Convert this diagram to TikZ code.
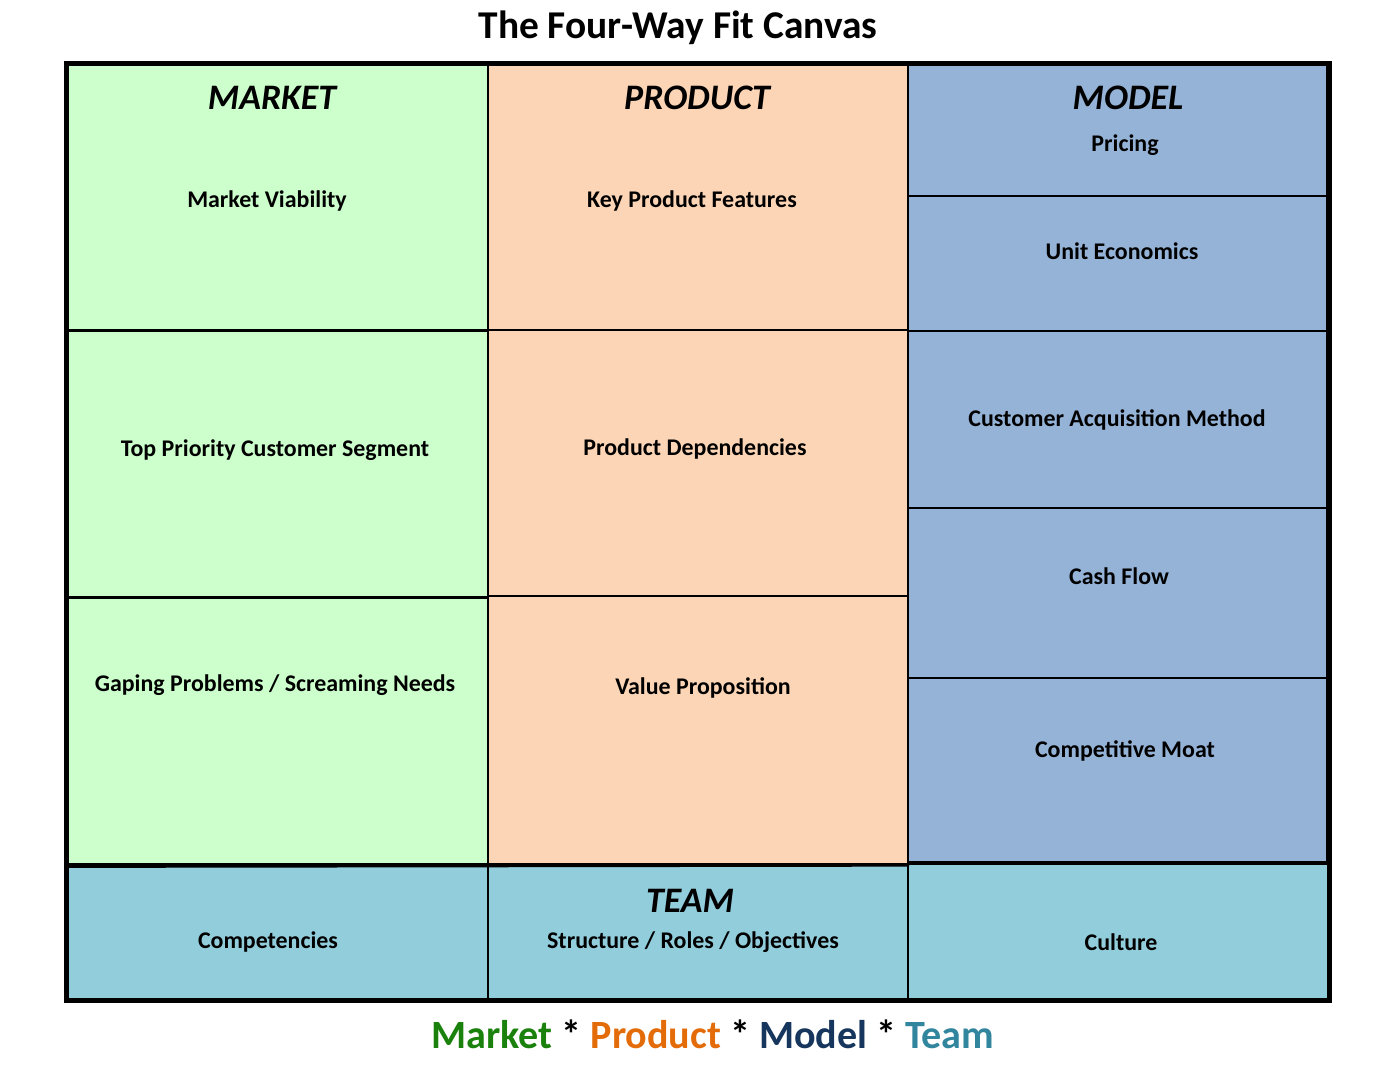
\documentclass[tikz,border=0pt]{standalone}
\usepackage{fontspec}
\setmainfont{Carlito}
\usepackage{tikz}
\usetikzlibrary{positioning}
\definecolor{mktfill} {RGB}{204,255,204}
\definecolor{prdfill} {RGB}{251,213,181}
\definecolor{mdlfill} {RGB}{149,179,215}
\definecolor{teamfill}{RGB}{146,205,220}
\definecolor{mktword} {RGB}{ 26,130, 12}
\definecolor{prdword} {RGB}{227,108,  9}
\definecolor{mdlword} {RGB}{ 23, 54, 93}
\definecolor{teamword}{RGB}{ 49,133,156}
\tikzset{
  cell/.style  ={rectangle,draw,anchor=north west,inner sep=0pt,
                 line width=0.55pt},
  mktc/.style  ={cell,fill=mktfill,line width=0.9pt},
  prdc/.style  ={cell,fill=prdfill},
  mdlc/.style  ={cell,fill=mdlfill},
  teamc/.style ={cell,fill=teamfill},
  txt/.style   ={font=\bfseries\fontsize{6.8}{8}\selectfont,inner sep=1pt,
                 yshift=-0.02cm},
  head/.style  ={font=\bfseries\itshape\fontsize{10.2}{12}\selectfont,inner sep=1pt},
  frame/.style ={draw,line width=1.4pt},
}

\begin{document}
\begin{tikzpicture}[x=0.01cm,y=-0.01cm]
  \useasboundingbox (0,0) rectangle (1397,1065);
  % market column
  \node[mktc,minimum width=4.22cm,minimum height=2.67cm] (mkA) at (65,62)  {};
  \node[mktc,minimum width=4.22cm,minimum height=2.67cm] (mkB) at (65,329) {};
  \node[mktc,minimum width=4.22cm,minimum height=2.67cm] (mkC) at (65,596) {};
  % product column
  \node[prdc,minimum width=4.20cm,minimum height=2.67cm] (prA) at (487,62)  {};
  \node[prdc,minimum width=4.20cm,minimum height=2.66cm] (prB) at (487,329) {};
  \node[prdc,minimum width=4.20cm,minimum height=2.68cm] (prC) at (487,595) {};
  % model column
  \node[mdlc,minimum width=4.19cm,minimum height=1.33cm] (mdA) at (907,62)  {};
  \node[mdlc,minimum width=4.19cm,minimum height=1.35cm] (mdB) at (907,195) {};
  \node[mdlc,minimum width=4.19cm,minimum height=1.77cm] (mdC) at (907,330) {};
  \node[mdlc,minimum width=4.19cm,minimum height=1.70cm] (mdD) at (907,507) {};
  \node[mdlc,minimum width=4.19cm,minimum height=1.84cm] (mdE) at (907,677) {};
  % team row
  \node[teamc,minimum width=4.22cm,minimum height=1.35cm] (tmA) at (65,863)  {};
  \node[teamc,minimum width=4.20cm,minimum height=1.35cm] (tmB) at (487,863) {};
  \node[teamc,minimum width=4.21cm,minimum height=1.35cm] (tmC) at (907,863) {};
  % outer frame
  \node[frame,anchor=north west,inner sep=0pt,
        minimum width=12.62cm,minimum height=9.37cm] (canvas) at (64,61) {};
  \draw[line width=0.9pt] (mkC.south west) -- (prC.south east);

  % texts
  \node[font=\bfseries\fontsize{11.2}{13}\selectfont] (title) at (678,28) {The Four-Way Fit Canvas};
  \node[head] (mkH) at (272,98)  {MARKET};
  \node[head] (prH) at (697,98)  {PRODUCT};
  \node[head] (mdH) at (1128,98) {MODEL};
  \node[head] (tmH) at (690,901) {TEAM};
  \node[txt] (mkAt) at (267,199)  {Market Viability};
  \node[txt] (mkBt) at (275,448)  {Top Priority Customer Segment};
  \node[txt] (mkCt) at (275,683)  {Gaping Problems / Screaming Needs};
  \node[txt] (prAt) at (692,199)  {Key Product Features};
  \node[txt] (prBt) at (695,447)  {Product Dependencies};
  \node[txt] (prCt) at (703,686)  {Value Proposition};
  \node[txt] (mdAt) at (1125,143) {Pricing};
  \node[txt] (mdBt) at (1122,249) {Unit Economics};
  \node[txt] (mdCt) at (1117,418) {Customer Acquisition Method};
  \node[txt] (mdDt) at (1119,574) {Cash Flow};
  \node[txt] (mdEt) at (1125,749) {Competitive Moat};
  \node[txt] (tmAt) at (268,940)  {Competencies};
  \node[txt] (tmBt) at (693,940)  {Structure / Roles / Objectives};
  \node[txt] (tmCt) at (1121,940) {Culture};
  \node[font=\bfseries\fontsize{11.4}{13}\selectfont] (motto) at (713,1034)
    {\textcolor{mktword}{Market} * \textcolor{prdword}{Product} * \textcolor{mdlword}{Model} * \textcolor{teamword}{Team}};
\end{tikzpicture}
\end{document}
